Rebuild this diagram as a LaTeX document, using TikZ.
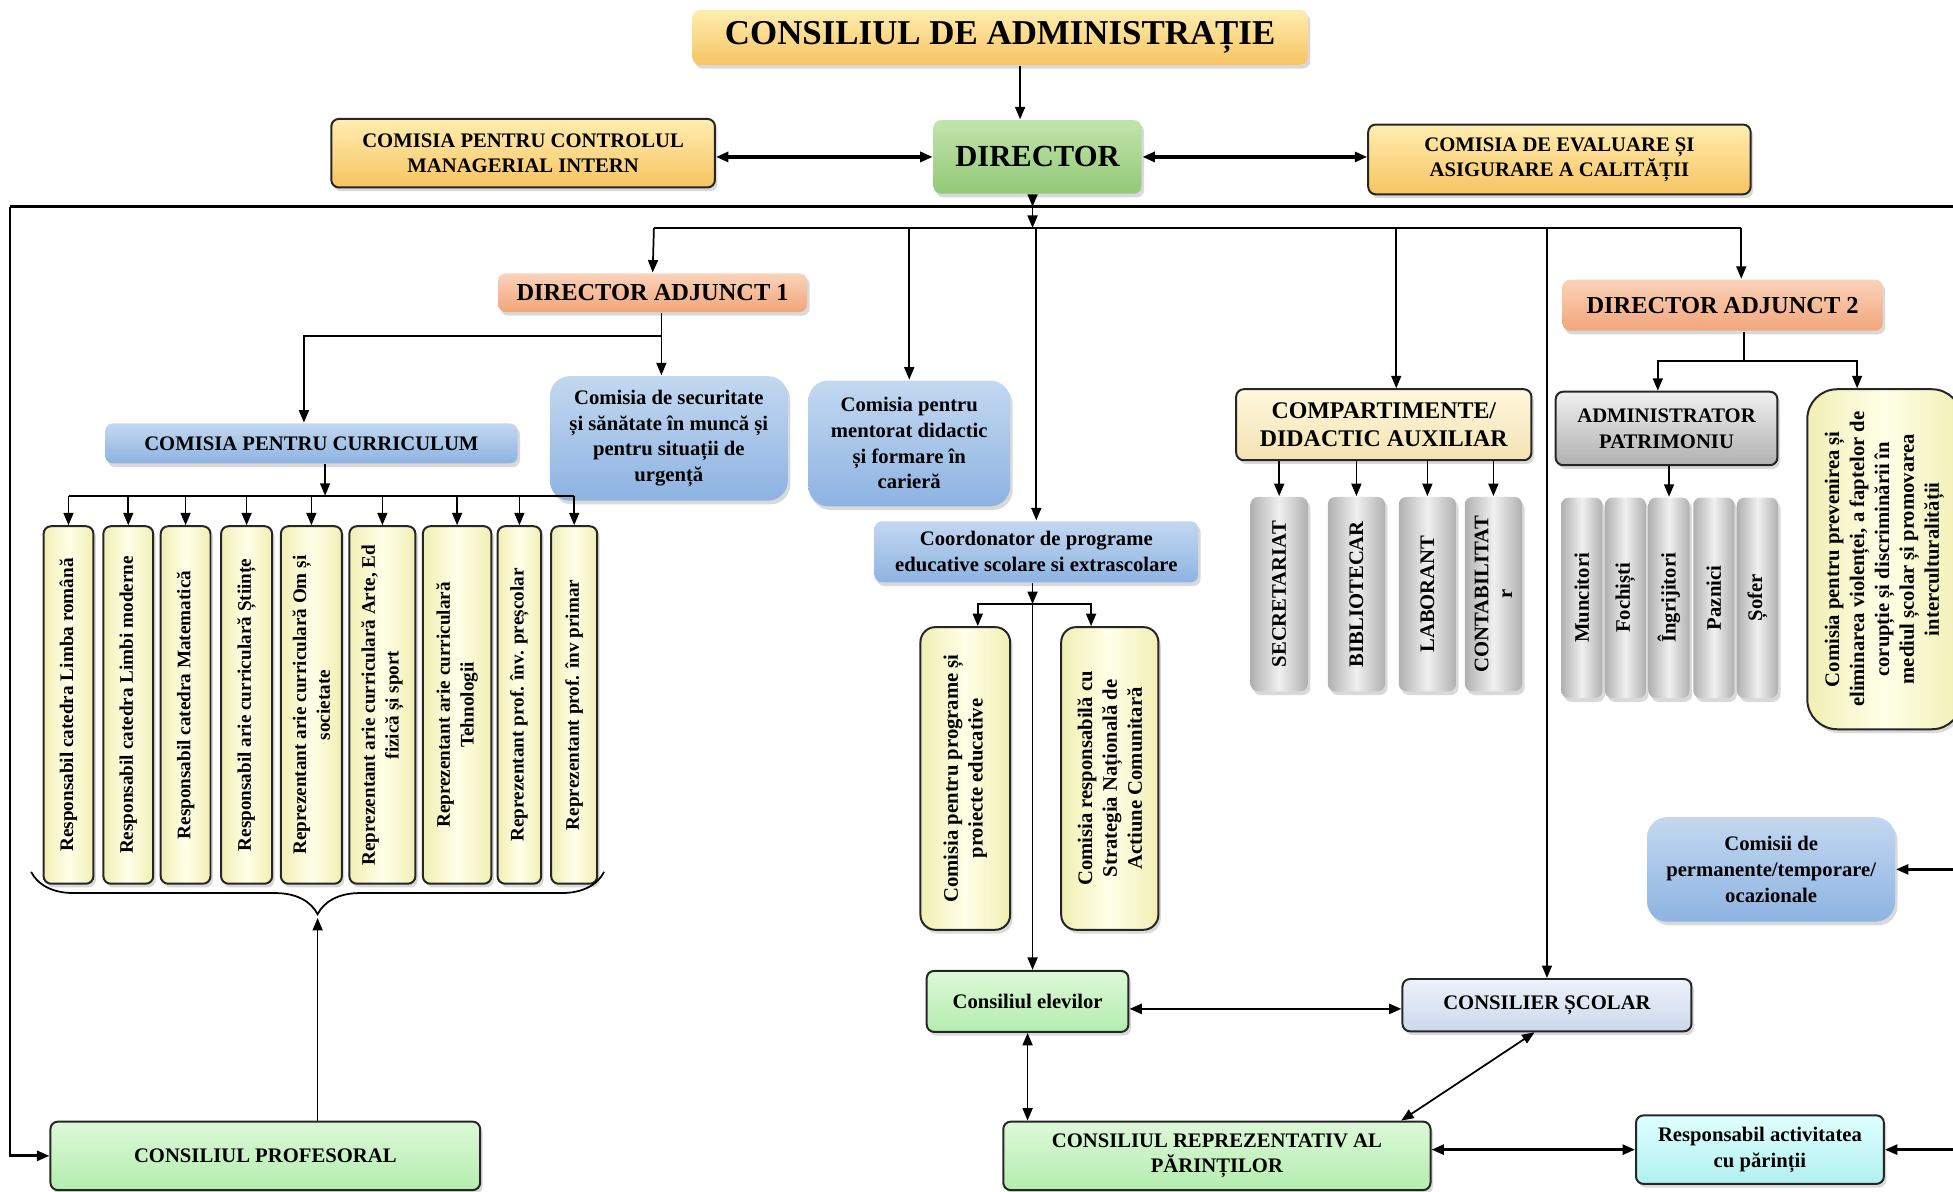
\documentclass[tikz,border=0pt]{standalone}
\usepackage{fontspec}
\setmainfont{Liberation Serif}
\usetikzlibrary{arrows.meta,shadows,decorations.pathreplacing}

\definecolor{goldL}{HTML}{FFEDB0}
\definecolor{goldD}{HTML}{F7C462}
\definecolor{grnL}{HTML}{C2E4AC}
\definecolor{grnD}{HTML}{92C977}
\definecolor{mintL}{HTML}{DDF9D8}
\definecolor{mintD}{HTML}{B3EDAE}
\definecolor{salL}{HTML}{FAD3BA}
\definecolor{salD}{HTML}{F2A57A}
\definecolor{bluL}{HTML}{C3D8F0}
\definecolor{bluD}{HTML}{8DB3E2}
\definecolor{crmL}{HTML}{FFFFE8}
\definecolor{crmD}{HTML}{F1EFB4}
\definecolor{gryL}{HTML}{F0F0F0}
\definecolor{gryD}{HTML}{B0B0B0}
\definecolor{cmpL}{HTML}{FFF8DE}
\definecolor{cmpD}{HTML}{F3E3B2}
\definecolor{cslL}{HTML}{EEF2FA}
\definecolor{cslD}{HTML}{CCD8EC}
\definecolor{cyaL}{HTML}{E0FFFF}
\definecolor{cyaD}{HTML}{B0F0F0}

\tikzset{
  box/.style={rounded corners=3pt, align=center, inner sep=2pt,
    font=\fontsize{8.3}{10.3}\selectfont\bfseries,
    drop shadow={shadow xshift=1pt,shadow yshift=-1.5pt,opacity=.3}},
  sz/.style 2 args={minimum width=#1*0.5pt, minimum height=#2*0.5pt},
  edged/.style={draw=black!85, line width=.8pt},
  gold/.style={box, top color=goldL, bottom color=goldD},
  green/.style={box, top color=grnL, bottom color=grnD},
  mint/.style={box, edged, top color=mintL, bottom color=mintD},
  salmon/.style={box, top color=salL, bottom color=salD},
  blue/.style={box, top color=bluL, bottom color=bluD},
  cream/.style={box, edged, left color=crmD, right color=crmD, middle color=crmL},
  grey/.style={box, left color=gryD, right color=gryD, middle color=gryL},
  vtxt/.style={rotate=90, align=center, font=\fontsize{7.7}{9.5}\selectfont\bfseries},
  gtxt/.style={rotate=90, align=center, font=\fontsize{8.3}{9.5}\selectfont\bfseries},
}

\begin{document}
\begin{tikzpicture}[x=0.5pt,y=-0.5pt,>={Triangle[length=5pt,width=4pt]},line width=0.7pt]
\useasboundingbox (0,0) rectangle (1568,957);
\clip (0,0) rectangle (1568,957);

% conducere
\node[gold, sz={494}{44}, font=\fontsize{14}{16}\selectfont\bfseries] (ca) at (803,30) {CONSILIUL DE ADMINISTRAȚIE};
\node[green, sz={167}{59}, font=\fontsize{12.3}{14}\selectfont\bfseries] (dir) at (833,126) {DIRECTOR};
\node[gold, edged, sz={308}{55}, font=\fontsize{8.3}{10}\selectfont\bfseries] (cmi) at (420,123) {COMISIA PENTRU CONTROLUL\\MANAGERIAL INTERN};
\node[gold, edged, sz={307}{56}, font=\fontsize{8.3}{10}\selectfont\bfseries] (ceac) at (1252,128) {COMISIA DE EVALUARE ȘI\\ASIGURARE A CALITĂȚII};
\node[salmon, sz={248}{31}, font=\fontsize{9.8}{11}\selectfont\bfseries] (da1) at (524,235) {DIRECTOR ADJUNCT 1};
\node[salmon, sz={257}{41}, font=\fontsize{9.8}{11}\selectfont\bfseries] (da2) at (1383,245) {DIRECTOR ADJUNCT 2};

% comisii
\node[blue, sz={331}{32}] (curr) at (250,356) {COMISIA PENTRU CURRICULUM};
\node[blue, rounded corners=8pt, sz={191}{100}] (secu) at (537,352) {Comisia de securitate\\și sănătate în muncă și\\pentru situații de\\urgență};
\node[blue, rounded corners=8pt, sz={162}{101}] (ment) at (730,356) {Comisia pentru\\mentorat didactic\\și formare în\\carieră};
\node[blue, sz={260}{49}] (coord) at (832,443) {Coordonator de programe\\educative scolare si extrascolare};
\node[blue, rounded corners=8pt, sz={199}{84}] (perm) at (1422,698) {Comisii de\\permanente/temporare/\\ocazionale};

% catedre si arii curriculare
\foreach \n/\x/\w/\t in {
  1/55/40/{Responsabil catedra Limba română},
  2/103/40/{Responsabil catedra Limbi moderne},
  3/149/40/{Responsabil catedra Matematică},
  4/198/41/{Responsabil arie curriculară Științe},
  5/250/49/{Reprezentant arie curriculară Om și\\societate},
  6/307/53/{Reprezentant arie curriculară Arte, Ed\\fizică și sport},
  7/367/55/{Reprezentant arie curriculară\\Tehnologii},
  8/417/35/{Reprezentant prof. înv. preșcolar},
  9/461/37/{Reprezentant prof. înv primar}}{
  \node[cream, sz={\w}{287}] (r\n) at (\x,566) {};
  \node[vtxt] at (r\n) {\t};
}

% programe educative
\node[cream, rounded corners=6pt, sz={72}{243}] (ppe) at (775,625) {};
\node[vtxt, font=\fontsize{8.3}{10}\selectfont\bfseries] at (ppe) {Comisia pentru programe și\\proiecte educative};
\node[cream, rounded corners=6pt, sz={78}{243}] (snac) at (891,625) {};
\node[vtxt, font=\fontsize{8.3}{10}\selectfont\bfseries] at (snac) {Comisia responsabilă cu\\Strategia Națională de\\Actiune Comunitară};

% compartimente
\node[box, edged, top color=cmpL, bottom color=cmpD, sz={237}{57}, font=\fontsize{9.6}{11}\selectfont\bfseries] (comp) at (1111,341) {COMPARTIMENTE/\\DIDACTIC AUXILIAR};
\foreach \n/\x/\t in {sec/1027/SECRETARIAT, bib/1089/BIBLIOTECAR, lab/1146/LABORANT, cont/1199/{CONTABILITAT\\r}}{
  \node[grey, sz={46}{156}] (\n) at (\x,477) {};
  \node[gtxt] at (\n) {\t};
}

% administrativ
\node[box, edged, top color=gryL, bottom color=gryD, sz={178}{59}] (adm) at (1338,344) {ADMINISTRATOR\\PATRIMONIU};
\foreach \n/\x/\t in {munc/1270/Muncitori, foch/1305/Fochiști, ingr/1340/Îngrijitori, pazn/1376/Paznici, sofr/1411/Șofer}{
  \node[grey, sz={33}{161}] (\n) at (\x,480) {};
  \node[gtxt] at (\n) {\t};
}
\node[cream, rounded corners=12pt, sz={124}{273}] (prev) at (1513,449) {};
\node[vtxt, font=\fontsize{8.3}{10}\selectfont\bfseries] at (prev) {Comisia pentru prevenirea și\\eliminarea violenței, a faptelor de\\corupție și discriminării în\\mediul școlar și promovarea\\interculturalității};

% consilii
\node[mint, sz={162}{49}] (elev) at (825,804) {Consiliul elevilor};
\node[box, edged, top color=cslL, bottom color=cslD, sz={232}{42}] (cons) at (1242,807) {CONSILIER ȘCOLAR};
\node[mint, sz={343}{55}] (crp) at (977,928) {CONSILIUL REPREZENTATIV AL\\PĂRINȚILOR};
\node[box, edged, top color=cyaL, bottom color=cyaD, sz={199}{55}] (resp) at (1413,923) {Responsabil activitatea\\cu părinții};
\node[mint, sz={345}{55}] (prof) at (213,928) {CONSILIUL PROFESORAL};

% legaturi
\coordinate (busL) at (8,166);
\coordinate (busR) at (1590,166);
\coordinate (b2L) at (525,183);
\coordinate (b2R) at (1398,183);
\coordinate (j1) at (531,270);
\coordinate (j2) at (261,398);
\coordinate (j3) at (829,485);
\coordinate (j4) at (1400,290);
\coordinate (brL) at (25,700);
\coordinate (brR) at (485,700);
\coordinate (brtip) at (255,737);

\draw[->] ([xshift=-7pt]dir.north |- ca.south) -- ([xshift=-7pt]dir.north);
\draw[<->,line width=1.3pt] (cmi.east |- dir.west) -- (dir.west);
\draw[<->,line width=1.3pt] (dir.east) -- (dir.east -| ceac.west);

\draw[line width=1.3pt] (busL) -- (busR);
\draw[->,line width=1.1pt] (busL) |- (prof.west);
\draw[line width=1.1pt] (busR) -- (busR |- resp.east);
\draw[->,line width=1.1pt] (busR |- perm.east) -- (perm.east);
\draw[->,line width=1.1pt] (busR |- resp.east) -- (resp.east);

\draw[->] ([xshift=-2pt]dir.south) -- ([xshift=-2pt]dir.south |- busL);
\draw[->] ([xshift=-2pt]dir.south |- busL) -- ([xshift=-2pt]dir.south |- b2L);
\draw[line width=1.1pt] (b2L) -- (b2R);
\draw[->] (b2L) -- (da1.north);
\draw[->] (b2R) -- (b2R |- da2.north);
\draw[->] (ment.north |- b2L) -- (ment.north);
\draw[->] (coord.north |- b2L) -- (coord.north);
\draw[->] ([xshift=5pt]comp.north |- b2L) -- ([xshift=5pt]comp.north);
\draw[->] (cons.north |- b2L) -- (cons.north);

\draw (da1.south -| j1) -- (j1);
\draw[->] (j1) -- (j1 |- secu.north);
\draw[->] (j1) -| ([xshift=-3pt]curr.north);

\draw[->] (curr.south -| j2) -- (j2);
\draw (r1.north |- j2) -- (r9.north |- j2);
\foreach \i in {1,...,9}
  \draw[->] (r\i.north |- j2) -- (r\i.north);

\draw[decorate,decoration={brace,mirror,amplitude=17pt}] (brL) -- (brR);
\draw[->] (prof.north -| brtip) -- (brtip);

\draw[->] (coord.south -| j3) -- (j3);
\draw[->] (j3) -| ([xshift=5pt]ppe.north);
\draw[->] (j3) -| ([xshift=-7.5pt]snac.north);
\draw[->] (j3) -- (j3 |- elev.north);

\foreach \n in {sec,bib,lab,cont}
  \draw[->] (comp.south -| \n.north) -- (\n.north);

\draw (da2.south -| j4) -- (j4);
\draw[->] (j4) -| ([xshift=-3.5pt]adm.north);
\draw[->] (j4) -| ([xshift=-11pt]prev.north);
\draw[->] (adm.south -| ingr.north) -- (ingr.north);

\draw[<->,line width=1.1pt] ([yshift=-3pt]elev.east) -- ([yshift=-3pt]elev.east -| cons.west);
\draw[<->] (elev.south) -- (elev.south |- crp.north);
\draw[<->] ([xshift=-5pt]cons.south) -- ([xshift=74pt]crp.north);
\draw[<->,line width=1.1pt] (resp.west -| crp.east) -- (resp.west);
\end{tikzpicture}
\end{document}
